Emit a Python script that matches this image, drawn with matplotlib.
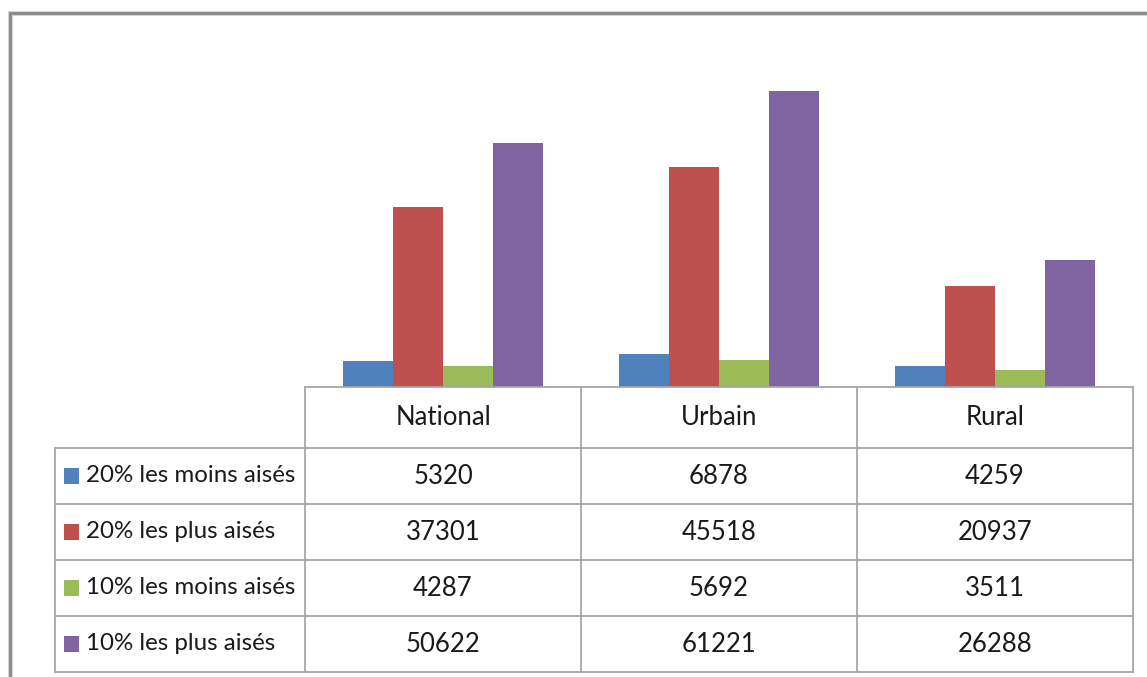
import matplotlib
matplotlib.use("Agg")
import matplotlib.pyplot as plt
import numpy as np

# data
categories = ["National", "Urbain", "Rural"]
series = ["20% les moins aisés", "20% les plus aisés",
          "10% les moins aisés", "10% les plus aisés"]
bas20 = [5320, 6878, 4259]
haut20 = [37301, 45518, 20937]
bas10 = [4287, 5692, 3511]
haut10 = [50622, 61221, 26288]
values = [bas20, haut20, bas10, haut10]
colors = ["#4F81BD", "#C0504D", "#9BBB59", "#8064A2"]

plt.rcParams['font.family'] = ['Lato', 'DejaVu Sans']

W, H = 1147, 677
fig = plt.figure(figsize=(W / 100, H / 100), dpi=100)

def fx(px):
    return px / W

def fy(py):
    return 1 - py / H

# pixel grid of the data table
col_edges = [305, 581, 857, 1133]
label_left = 55
row_edges = [387, 448, 504, 560, 616, 672]

# bar area sits right on top of the table
ax = fig.add_axes([fx(305), fy(387), fx(1133 - 305), (387 - 49) / H])
bw = 0.181
x = np.arange(len(categories))
for i, (vals, c) in enumerate(zip(values, colors)):
    ax.bar(x + (i - 1.5) * bw, vals, bw, color=c, linewidth=0)
ax.set_xlim(-0.5, len(categories) - 0.5)
ax.set_ylim(0, 70000)
ax.axis("off")

# overlay in pixel coordinates for table and chart frame
ov = fig.add_axes([0, 0, 1, 1], zorder=3)
ov.set_xlim(0, W)
ov.set_ylim(H, 0)
ov.axis("off")
ov.patch.set_alpha(0)

# chart frame (only top and left visible)
ov.plot([10, 10, W + 5], [H + 5, 13, 13], color="#d0d0d0", lw=3.5, solid_joinstyle="miter")
ov.plot([9.5, 9.5, W + 5], [H + 5, 12.5, 12.5], color="#888888", lw=2, solid_joinstyle="miter")

gc = "#a6a6a6"
lw = 1.3
# header row
ov.plot([col_edges[0], col_edges[-1]], [row_edges[0]] * 2, color=gc, lw=lw)
for r in row_edges[1:]:
    ov.plot([label_left, col_edges[-1]], [r, r], color=gc, lw=lw)
ov.plot([label_left, label_left], [row_edges[1], row_edges[-1]], color=gc, lw=lw)
for c in col_edges:
    ov.plot([c, c], [row_edges[0], row_edges[-1]], color=gc, lw=lw)

fs = 18.5
tc = "#1a1a1a"
for j, cat in enumerate(categories):
    cx = (col_edges[j] + col_edges[j + 1]) / 2
    cy = (row_edges[0] + row_edges[1]) / 2
    ov.text(cx, cy, cat, ha="center", va="center", fontsize=fs, color=tc)

for i, (name, vals, c) in enumerate(zip(series, values, colors)):
    cy = (row_edges[i + 1] + row_edges[i + 2]) / 2
    ov.add_patch(plt.Rectangle((64, cy - 8), 15, 16, color=c, lw=0))
    ov.text(86, cy, name, ha="left", va="center", fontsize=17.4, color=tc)
    for j, v in enumerate(vals):
        cx = (col_edges[j] + col_edges[j + 1]) / 2
        ov.text(cx, cy, str(v), ha="center", va="center", fontsize=fs, color=tc)

fig.savefig("out.png", dpi=100, facecolor="white")
